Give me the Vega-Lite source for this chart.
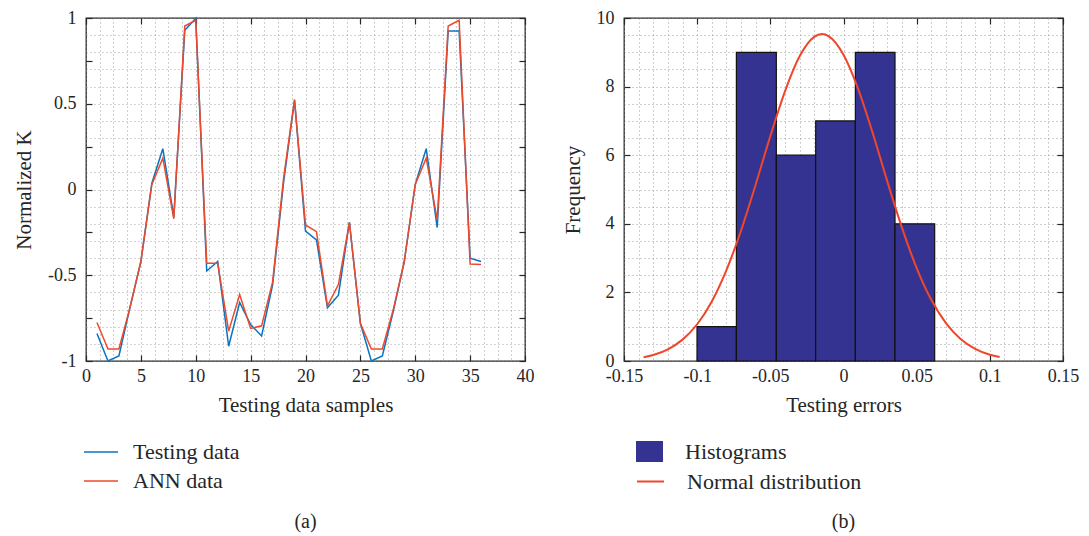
{
  "$schema": "https://vega.github.io/schema/vega-lite/v6.json",
  "padding": {"left": 12, "top": 8, "right": 5, "bottom": 5},
  "bounds": "flush",
  "spacing": 99,
  "config": {
    "font": "Liberation Serif",
    "view": {"stroke": "#262626", "strokeWidth": 1.3},
    "axis": {
      "labelFont": "Liberation Serif", "titleFont": "Liberation Serif",
      "labelFontSize": 18, "titleFontSize": 21, "titleFontWeight": "normal",
      "labelColor": "#262626", "titleColor": "#262626",
      "domain": false, "tickColor": "#262626", "tickSize": -6, "tickWidth": 1.2,
      "gridColor": "#8c8c8c", "gridDash": [1, 3], "gridWidth": 1, "gridOpacity": 0.85,
      "labelOverlap": false, "labelFlush": false, "labelBound": false
    },
    "legend": {"labelFont": "Liberation Serif", "labelFontSize": 22, "labelColor": "#262626", "padding": 0, "labelLimit": 400}
  },
  "hconcat": [
    {
      "width": 439, "height": 343,
      "title": {"text": "(a)", "orient": "bottom", "anchor": "middle", "fontSize": 20, "fontWeight": "normal", "font": "Liberation Serif", "color": "#262626", "offset": 97},
      "data": {"values": [
        {"sample": 1, "testing": -0.84, "ann": -0.776},
        {"sample": 2, "testing": -1.0, "ann": -0.93},
        {"sample": 3, "testing": -0.97, "ann": -0.93},
        {"sample": 4, "testing": -0.69, "ann": -0.69},
        {"sample": 5, "testing": -0.42, "ann": -0.42},
        {"sample": 6, "testing": 0.037, "ann": 0.03},
        {"sample": 7, "testing": 0.238, "ann": 0.183},
        {"sample": 8, "testing": -0.16, "ann": -0.171},
        {"sample": 9, "testing": 0.928, "ann": 0.953},
        {"sample": 10, "testing": 0.998, "ann": 0.987},
        {"sample": 11, "testing": -0.475, "ann": -0.43},
        {"sample": 12, "testing": -0.42, "ann": -0.43},
        {"sample": 13, "testing": -0.914, "ann": -0.826},
        {"sample": 14, "testing": -0.659, "ann": -0.612},
        {"sample": 15, "testing": -0.787, "ann": -0.81},
        {"sample": 16, "testing": -0.854, "ann": -0.795},
        {"sample": 17, "testing": -0.557, "ann": -0.54},
        {"sample": 18, "testing": 0.04, "ann": 0.065},
        {"sample": 19, "testing": 0.52, "ann": 0.525},
        {"sample": 20, "testing": -0.242, "ann": -0.207},
        {"sample": 21, "testing": -0.294, "ann": -0.246},
        {"sample": 22, "testing": -0.69, "ann": -0.678},
        {"sample": 23, "testing": -0.616, "ann": -0.554},
        {"sample": 24, "testing": -0.191, "ann": -0.191},
        {"sample": 25, "testing": -0.78, "ann": -0.78},
        {"sample": 26, "testing": -1.0, "ann": -0.93},
        {"sample": 27, "testing": -0.97, "ann": -0.93},
        {"sample": 28, "testing": -0.71, "ann": -0.7},
        {"sample": 29, "testing": -0.42, "ann": -0.42},
        {"sample": 30, "testing": 0.03, "ann": 0.03},
        {"sample": 31, "testing": 0.238, "ann": 0.183},
        {"sample": 32, "testing": -0.222, "ann": -0.177},
        {"sample": 33, "testing": 0.924, "ann": 0.953},
        {"sample": 34, "testing": 0.924, "ann": 0.987},
        {"sample": 35, "testing": -0.4, "ann": -0.435},
        {"sample": 36, "testing": -0.42, "ann": -0.437}
      ]},
      "layer": [
        {
          "mark": {"type": "line", "strokeWidth": 1.5},
          "encoding": {
            "x": {"field": "sample", "type": "quantitative", "scale": {"domain": [0, 40], "nice": false},
              "axis": {"orient": "bottom", "title": "Testing data samples", "grid": true,
                "values": [0,1.25,2.5,3.75,5,6.25,7.5,8.75,10,11.25,12.5,13.75,15,16.25,17.5,18.75,20,21.25,22.5,23.75,25,26.25,27.5,28.75,30,31.25,32.5,33.75,35,36.25,37.5,38.75,40],
                "labelExpr": "datum.value % 5 === 0 ? format(datum.value, '~g') : ''",
                "tickOpacity": {"condition": {"test": "datum.value % 5 === 0", "value": 1}, "value": 0},
                "labelPadding": 12, "titlePadding": 9}},
            "y": {"field": "testing", "type": "quantitative", "scale": {"domain": [-1, 1], "nice": false},
              "axis": {"orient": "left", "title": "Normalized K", "grid": true,
                "values": [-1,-0.9,-0.8,-0.75,-0.7,-0.6,-0.5,-0.4,-0.3,-0.25,-0.2,-0.1,0,0.1,0.2,0.25,0.3,0.4,0.5,0.6,0.7,0.75,0.8,0.9,1],
                "labelExpr": "abs(datum.value*2 - round(datum.value*2)) < 1e-6 ? (datum.value < 0 ? '-' : '') + format(abs(datum.value), '~g') : ''",
                "tickOpacity": {"condition": {"test": "abs(datum.value*4 - round(datum.value*4)) < 1e-6", "value": 1}, "value": 0},
                "gridOpacity": {"condition": {"test": "abs(datum.value*10 - round(datum.value*10)) < 1e-6", "value": 0.85}, "value": 0},
                "labelPadding": 16, "titlePadding": 13}},
            "color": {"datum": "Testing data", "type": "nominal",
              "scale": {"domain": ["Testing data", "ANN data"], "range": ["#0a74c0", "#ec4a2c"]},
              "legend": {"orient": "none", "legendX": -3, "legendY": 416, "title": null, "symbolType": "stroke", "symbolSize": 1156, "symbolStrokeWidth": 1.5, "labelOffset": 14, "rowPadding": -5}}
          }
        },
        {
          "mark": {"type": "line", "strokeWidth": 1.5},
          "encoding": {
            "x": {"field": "sample", "type": "quantitative", "scale": {"domain": [0, 40], "nice": false},
              "axis": {"orient": "top", "title": null, "grid": false, "labels": false,
                "values": [0,5,10,15,20,25,30,35,40]}},
            "y": {"field": "ann", "type": "quantitative", "scale": {"domain": [-1, 1], "nice": false},
              "axis": {"orient": "right", "title": null, "grid": false, "labels": false,
                "values": [-1,-0.75,-0.5,-0.25,0,0.25,0.5,0.75,1]}},
            "color": {"datum": "ANN data", "type": "nominal"}
          }
        }
      ],
      "resolve": {"axis": {"x": "independent", "y": "independent"}}
    },
    {
      "width": 439, "height": 343,
      "title": {"text": "(b)", "orient": "bottom", "anchor": "middle", "fontSize": 20, "fontWeight": "normal", "font": "Liberation Serif", "color": "#262626", "offset": 19},
      "layer": [
        {
          "data": {"values": [
            {"bin_start": -0.1001, "bin_end": -0.0732, "count": 1},
            {"bin_start": -0.0732, "bin_end": -0.0459, "count": 9},
            {"bin_start": -0.0459, "bin_end": -0.019, "count": 6},
            {"bin_start": -0.019, "bin_end": 0.0081, "count": 7},
            {"bin_start": 0.0081, "bin_end": 0.0352, "count": 9},
            {"bin_start": 0.0352, "bin_end": 0.0623, "count": 4}
          ]},
          "mark": {"type": "rect", "stroke": "#111111", "strokeWidth": 1.2},
          "encoding": {
            "x": {"field": "bin_start", "type": "quantitative", "scale": {"domain": [-0.15, 0.15], "nice": false},
              "axis": {"orient": "bottom", "title": "Testing errors", "grid": true,
                "values": [-0.15,-0.14,-0.13,-0.12,-0.11,-0.1,-0.09,-0.08,-0.07,-0.06,-0.05,-0.04,-0.03,-0.02,-0.01,0,0.01,0.02,0.03,0.04,0.05,0.06,0.07,0.08,0.09,0.1,0.11,0.12,0.13,0.14,0.15],
                "labelExpr": "abs(datum.value*20 - round(datum.value*20)) < 1e-6 ? (datum.value < -1e-9 ? '-' : '') + format(abs(datum.value), '~g') : ''",
                "tickOpacity": {"condition": {"test": "abs(datum.value*20 - round(datum.value*20)) < 1e-6", "value": 1}, "value": 0},
                "labelPadding": 12, "titlePadding": 9}},
            "x2": {"field": "bin_end"},
            "y": {"field": "count", "type": "quantitative", "scale": {"domain": [0, 10], "nice": false},
              "axis": {"orient": "left", "title": "Frequency", "grid": true,
                "values": [0,0.5,1,1.5,2,2.5,3,3.5,4,4.5,5,5.5,6,6.5,7,7.5,8,8.5,9,9.5,10],
                "labelExpr": "datum.value % 2 === 0 ? format(datum.value, '~g') : ''",
                "tickOpacity": {"condition": {"test": "datum.value % 2 === 0", "value": 1}, "value": 0},
                "labelPadding": 16, "titlePadding": 13}},
            "y2": {"datum": 0},
            "fill": {"datum": "Histograms", "type": "nominal", "scale": {"range": ["#343392"]},
              "legend": {"orient": "none", "legendX": 12, "legendY": 420, "title": null, "symbolType": "M-1,-0.78H1V0.78H-1Z", "symbolSize": 729, "symbolStrokeWidth": 0, "symbolOpacity": 1, "labelOffset": 22}}
          }
        },
        {
          "data": {"values": [
            {"err": -0.1366, "freq": 0.11}, {"err": -0.13, "freq": 0.176}, {"err": -0.12, "freq": 0.341},
            {"err": -0.11, "freq": 0.623}, {"err": -0.1, "freq": 1.071}, {"err": -0.09, "freq": 1.735},
            {"err": -0.08, "freq": 2.649}, {"err": -0.07, "freq": 3.806}, {"err": -0.06, "freq": 5.147},
            {"err": -0.05, "freq": 6.555}, {"err": -0.04, "freq": 7.863}, {"err": -0.03, "freq": 8.883},
            {"err": -0.02, "freq": 9.45}, {"err": -0.0147, "freq": 9.53}, {"err": -0.01, "freq": 9.467},
            {"err": 0, "freq": 8.931}, {"err": 0.01, "freq": 7.936}, {"err": 0.02, "freq": 6.639},
            {"err": 0.03, "freq": 5.229}, {"err": 0.04, "freq": 3.88}, {"err": 0.05, "freq": 2.711},
            {"err": 0.06, "freq": 1.783}, {"err": 0.07, "freq": 1.105}, {"err": 0.08, "freq": 0.644},
            {"err": 0.09, "freq": 0.354}, {"err": 0.1, "freq": 0.183}, {"err": 0.1067, "freq": 0.114}
          ]},
          "mark": {"type": "line", "interpolate": "monotone", "strokeWidth": 2},
          "encoding": {
            "x": {"field": "err", "type": "quantitative", "scale": {"domain": [-0.15, 0.15], "nice": false},
              "axis": {"orient": "top", "title": null, "grid": false, "labels": false,
                "values": [-0.15,-0.1,-0.05,0,0.05,0.1,0.15]}},
            "y": {"field": "freq", "type": "quantitative", "scale": {"domain": [0, 10], "nice": false},
              "axis": {"orient": "right", "title": null, "grid": false, "labels": false,
                "values": [0,2,4,6,8,10]}},
            "stroke": {"datum": "Normal distribution", "type": "nominal", "scale": {"range": ["#f0462b"]},
              "legend": {"orient": "none", "legendX": 12, "legendY": 449, "title": null, "symbolType": "stroke", "symbolSize": 729, "symbolStrokeWidth": 2, "labelOffset": 22}}
          }
        }
      ],
      "resolve": {"axis": {"x": "independent", "y": "independent"}, "scale": {"fill": "independent", "stroke": "independent"}}
    }
  ]
}
